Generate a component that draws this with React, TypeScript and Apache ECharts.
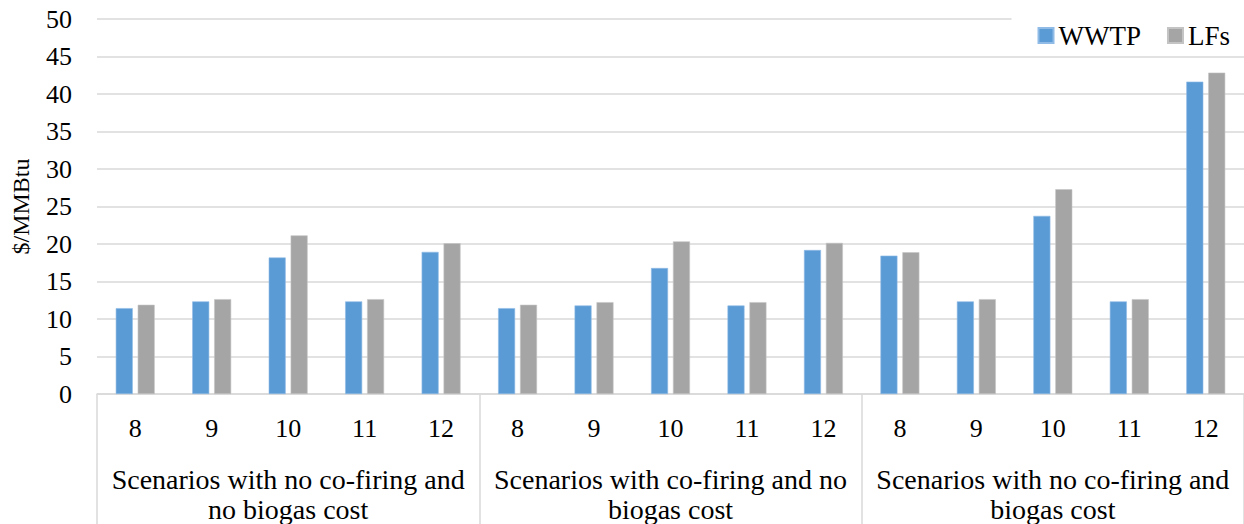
import React, { useEffect, useRef } from "react";
import * as echarts from "echarts";

const scenarios = ["8", "9", "10", "11", "12", "8", "9", "10", "11", "12", "8", "9", "10", "11", "12"];
const groups = [
  "Scenarios with no co-firing and\nno biogas cost",
  "Scenarios with co-firing and no\nbiogas cost",
  "Scenarios with no co-firing and\nbiogas cost",
];
const wwtp = [11.45, 12.35, 18.2, 12.35, 18.95, 11.45, 11.8, 16.8, 11.8, 19.2, 18.45, 12.35, 23.75, 12.35, 41.65];
const lfs = [11.9, 12.65, 21.15, 12.65, 20.1, 11.9, 12.25, 20.35, 12.25, 20.15, 18.9, 12.65, 27.3, 12.65, 42.85];
const yTicks = { min: 0, max: 50, interval: 5 };

const FONT = "Liberation Serif";

export default function App() {
  const ref = useRef<HTMLDivElement>(null);
  useEffect(() => {
    if (!ref.current) return;
    const chart = echarts.init(ref.current, null, { renderer: "svg" });
    chart.setOption({
      animation: false,
      textStyle: { fontFamily: FONT, color: "#000" },
      legend: {
        right: 0,
        top: 12,
        padding: [10, 14, 4, 26],
        backgroundColor: "#fff",
        itemWidth: 15,
        itemHeight: 15,
        itemGap: 26,
        icon: "rect",
        textStyle: { fontFamily: FONT, fontSize: 27, color: "#000" },
        data: ["WWTP", "LFs"],
      },
      grid: { left: 97, right: 0, top: 19, bottom: 130, containLabel: false, outerBoundsMode: "none" },
      xAxis: [
        {
          type: "category",
          data: scenarios,
          axisLine: { show: true, lineStyle: { color: "#d9d9d9", width: 1.5 } },
          axisTick: { show: false },
          axisLabel: { fontFamily: FONT, fontSize: 26, color: "#000", margin: 21, interval: 0 },
        },
        {
          type: "category",
          data: groups,
          position: "bottom",
          axisLine: { show: false },
          axisTick: { show: true, length: 130, lineStyle: { color: "#d9d9d9", width: 1.5 } },
          axisLabel: {
            fontFamily: FONT,
            fontSize: 28,
            lineHeight: 30,
            color: "#000",
            margin: 70,
            interval: 0,
            align: "center",
          },
        },
      ],
      yAxis: {
        type: "value",
        min: yTicks.min,
        max: yTicks.max,
        interval: yTicks.interval,
        name: "$/MMBtu",
        nameLocation: "middle",
        nameRotate: 90,
        nameGap: 64,
        nameTextStyle: { fontFamily: FONT, fontSize: 24, color: "#000" },
        axisLine: { show: false },
        axisTick: { show: false },
        axisLabel: { fontFamily: FONT, fontSize: 26, color: "#000", margin: 25 },
        splitLine: { lineStyle: { color: "#d9d9d9", width: 1.5 } },
      },
      series: [
        {
          name: "WWTP",
          type: "bar",
          data: wwtp,
          barWidth: 17,
          barGap: "29%",
          itemStyle: { color: "#5B9BD5", borderColor: "#8fbbe6", borderWidth: 0.6 },
        },
        {
          name: "LFs",
          type: "bar",
          data: lfs,
          barWidth: 17,
          barGap: "29%",
          itemStyle: { color: "#A5A5A5", borderColor: "#c4c4c4", borderWidth: 0.6 },
        },
      ],
    });
    return () => chart.dispose();
  }, []);
  return (
    <div
      ref={ref}
      style={{ position: "absolute", left: 0, top: 0, width: 1244, height: 524, background: "#fff" }}
    />
  );
}
